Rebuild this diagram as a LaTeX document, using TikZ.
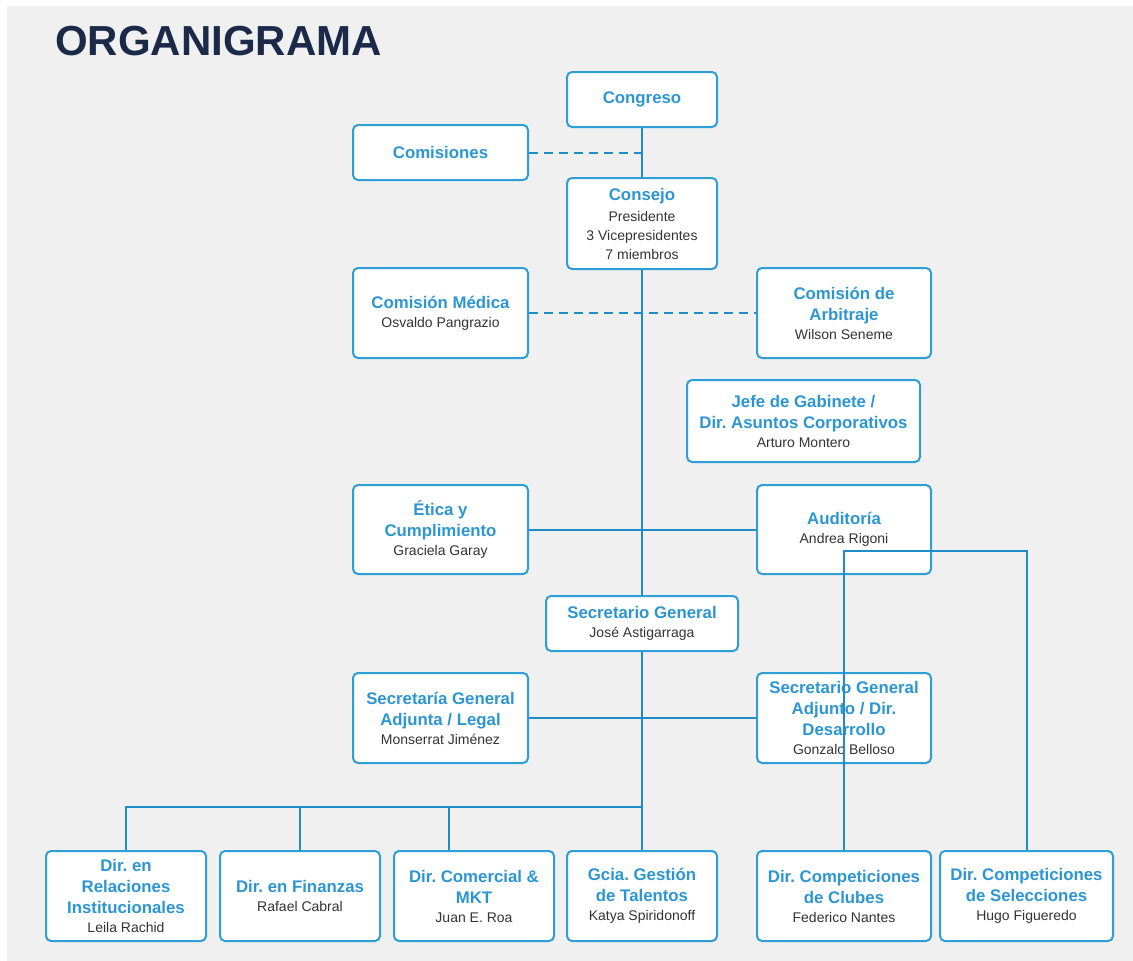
\documentclass[tikz,border=0pt]{standalone}
\usepackage{fontspec}
\setmainfont{Liberation Sans}
\frenchspacing
\definecolor{bgChart}{RGB}{240,240,240}
\definecolor{boxBlue}{RGB}{45,158,214}
\definecolor{lineBlue}{RGB}{31,140,200}
\definecolor{titleBlue}{RGB}{44,150,210}
\definecolor{nameGray}{RGB}{51,51,51}
\definecolor{headNavy}{RGB}{27,42,72}
\newcommand{\orgName}[1]{{\fontsize{14}{18}\selectfont\mdseries\color{nameGray}#1}}

\begin{document}
\begin{tikzpicture}[x=1pt,y=-1pt]
 \tikzset{
  orgBox/.style={draw=boxBlue, line width=2pt, rounded corners=5pt, fill=white, align=center,
    inner sep=0pt, text=titleBlue, font=\fontsize{16.8}{21}\selectfont\bfseries},
  orgLink/.style={lineBlue, line width=2pt},
  orgDashed/.style={orgLink, dash pattern=on 9pt off 6pt}
  }
  % page and background
  \useasboundingbox (0,0) rectangle (1133,961);
  \fill[white] (0,0) rectangle (1133,961);
  \fill[bgChart] (7,6) rectangle (1133,961);

  \node[anchor=base west, inner sep=0pt, text=headNavy,
    font=\fontsize{42}{48}\selectfont\bfseries] (titulo) at (55,55) {ORGANIGRAMA};

  % top of the chart
  \node[orgBox, minimum width=150, minimum height=55] (congreso) at (642,99.5) {Congreso};
  \node[orgBox, minimum width=175, minimum height=55] (comisiones) at (440.5,152.5) {Comisiones};
  \node[orgBox, minimum width=150, minimum height=91] (consejo) at (642,223.5)
    {Consejo\\\orgName{Presidente}\\[-2pt]\orgName{3 Vicepresidentes}\\[-2pt]\orgName{7 miembros}};
  \node[orgBox, minimum width=175, minimum height=90] (comMedica) at (440.5,313)
    {Comisión Médica\\[-2pt]\orgName{Osvaldo Pangrazio}};
  \node[orgBox, minimum width=174, minimum height=90] (comArbitraje) at (844,313)
    {Comisión de\\Arbitraje\\[-2pt]\orgName{Wilson Seneme}};
  \node[orgBox, minimum width=233, minimum height=82] (jefeGabinete) at (803.5,421)
    {Jefe de Gabinete /\\Dir. Asuntos Corporativos\\[-2pt]\orgName{Arturo Montero}};

  % middle
  \node[orgBox, minimum width=175, minimum height=89] (etica) at (440.5,529.5)
    {Ética y\\Cumplimiento\\[-2pt]\orgName{Graciela Garay}};
  \node[orgBox, minimum width=174, minimum height=89] (auditoria) at (844,529.5)
    {Auditoría\\[-2pt]\orgName{Andrea Rigoni}};
  \node[orgBox, minimum width=192, minimum height=55] (secGeneral) at (642,623.5)
    {Secretario General\\[-2pt]\orgName{José Astigarraga}};
  \node[orgBox, minimum width=175, minimum height=90] (secAdjunta) at (440.5,718)
    {Secretaría General\\Adjunta / Legal\\[-2pt]\orgName{Monserrat Jiménez}};
  \node[orgBox, minimum width=174, minimum height=90] (secAdjunto) at (844,718)
    {Secretario General\\Adjunto / Dir.\\Desarrollo\\[-2pt]\orgName{Gonzalo Belloso}};

  % bottom row
  \node[orgBox, minimum width=160, minimum height=90] (relaciones) at (126,896)
    {Dir. en\\Relaciones\\Institucionales\\[-2pt]\orgName{Leila Rachid}};
  \node[orgBox, minimum width=160, minimum height=90] (finanzas) at (300,896)
    {Dir. en Finanzas\\[-2pt]\orgName{Rafael Cabral}};
  \node[orgBox, minimum width=160, minimum height=90] (comercial) at (474,896)
    {Dir. Comercial \&\\MKT\\[-2pt]\orgName{Juan E. Roa}};
  \node[orgBox, minimum width=150, minimum height=90] (talentos) at (642,896)
    {Gcia. Gestión\\de Talentos\\[-2pt]\orgName{Katya Spiridonoff}};
  \node[orgBox, minimum width=174, minimum height=90] (clubes) at (844,896)
    {Dir. Competiciones\\de Clubes\\[-2pt]\orgName{Federico Nantes}};
  \node[orgBox, minimum width=173, minimum height=90] (selecciones) at (1026.5,896)
    {Dir. Competiciones\\de Selecciones\\[-2pt]\orgName{Hugo Figueredo}};

  % main line
  \draw[orgLink] (congreso) -- (consejo);
  \draw[orgLink] (consejo) -- (secGeneral);
  \draw[orgLink] (secGeneral) -- (talentos);
  \draw[orgDashed] (comisiones.east) -- (comisiones.east -| congreso.south);

  % side links
  \draw[orgDashed] (comMedica.east) -- (comArbitraje.west);
  \draw[orgLink] (etica.east) -- (auditoria.west);
  \draw[orgLink] (secAdjunta.east) -- (secAdjunto.west);

  % bus to the directions
  \coordinate (busJoin) at (642,807);
  \draw[orgLink] (busJoin) -| (relaciones.north);
  \draw[orgLink] (busJoin) -| (finanzas.north);
  \draw[orgLink] (busJoin) -| ([xshift=-25pt]comercial.north);

  % competiciones
  \coordinate (compTurn) at (844,551);
  \draw[orgLink] (clubes.north) -- (compTurn) -| (selecciones.north);
\end{tikzpicture}
\end{document}
